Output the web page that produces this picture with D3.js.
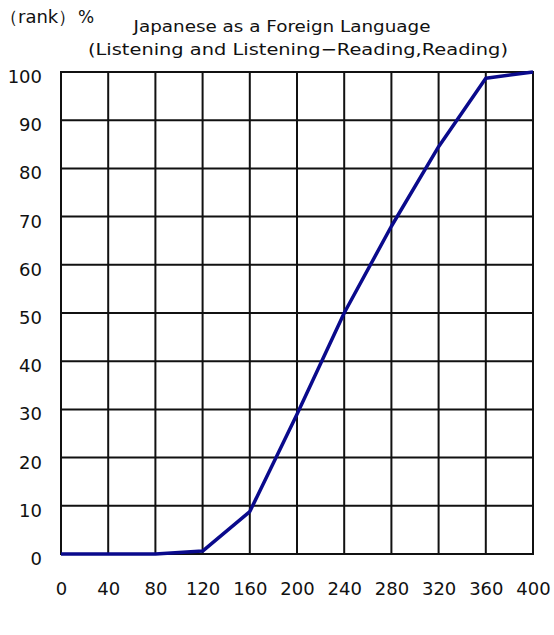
<!DOCTYPE html>
<html>
<head>
<meta charset="utf-8">
<script src="https://cdn.jsdelivr.net/npm/d3@7"></script>
<style>
  body { margin: 0; background: #fff; }
  text { font-family: "DejaVu Sans", sans-serif; fill: #111; }
</style>
</head>
<body>
<svg id="chart" width="554" height="635"></svg>
<script>
// score (x) and cumulative percentile rank (y)
var scores = [0, 40, 80, 120, 160, 200, 240, 280, 320, 360, 400];
var percent = [0, 0, 0, 0.6, 8.8, 29, 50, 68, 84.5, 98.7, 100];
var xTicks = [0, 40, 80, 120, 160, 200, 240, 280, 320, 360, 400];
var yTicks = [0, 10, 20, 30, 40, 50, 60, 70, 80, 90, 100];

var svg = d3.select("#chart");
var margin = {top: 72, left: 61, bottom: 81, right: 21};
var width = 554, height = 635;

var x = d3.scaleLinear().domain([0, 400]).range([margin.left, width - margin.right]);
var y = d3.scaleLinear().domain([0, 100]).range([height - margin.bottom, margin.top]);

// grid
svg.append("g").selectAll("line.v")
  .data(xTicks)
  .enter().append("line")
    .attr("x1", d => x(d)).attr("x2", d => x(d))
    .attr("y1", y(0)).attr("y2", y(100))
    .attr("stroke", "#111").attr("stroke-width", 2);

svg.append("g").selectAll("line.h")
  .data(yTicks)
  .enter().append("line")
    .attr("x1", x(0) - 1).attr("x2", x(400) + 1)
    .attr("y1", d => y(d)).attr("y2", d => y(d))
    .attr("stroke", "#111").attr("stroke-width", 2);

// axes (labels only)
var yAxis = svg.append("g")
  .attr("transform", `translate(${x(0)},0)`)
  .call(d3.axisLeft(y).tickValues(yTicks).tickSize(0).tickPadding(19));
yAxis.select(".domain").remove();
yAxis.selectAll("text").attr("font-size", "18px").attr("dy", "0.58em")
  .attr("font-family", "DejaVu Sans, sans-serif").attr("fill", "#111");

var xAxis = svg.append("g")
  .attr("transform", `translate(0,${y(0)})`)
  .call(d3.axisBottom(x).tickValues(xTicks).tickSize(0).tickPadding(28));
xAxis.select(".domain").remove();
xAxis.selectAll("text").attr("font-size", "18px")
  .attr("font-family", "DejaVu Sans, sans-serif").attr("fill", "#111");

// line
var line = d3.line().x((d, i) => x(scores[i])).y(d => y(d));
svg.append("path")
  .datum(percent)
  .attr("fill", "none")
  .attr("stroke", "#0a0a8c")
  .attr("stroke-width", 3.5)
  .attr("stroke-linejoin", "round")
  .attr("d", line);

// titles
svg.append("text").attr("x", 0).attr("y", 23).attr("font-size", "18px")
  .attr("font-family", "Noto Sans CJK JP, sans-serif").text("（rank）");
svg.append("text").attr("x", 78).attr("y", 23).attr("font-size", "17px").text("%");
svg.append("text").attr("x", 282).attr("y", 32).attr("text-anchor", "middle")
  .attr("font-size", "16px").attr("textLength", 297).attr("lengthAdjust", "spacingAndGlyphs")
  .text("Japanese as a Foreign Language");
svg.append("text").attr("x", 298).attr("y", 55).attr("text-anchor", "middle")
  .attr("font-size", "16px").attr("textLength", 420).attr("lengthAdjust", "spacingAndGlyphs")
  .text("(Listening and Listening−Reading,Reading)");
</script>
</body>
</html>
